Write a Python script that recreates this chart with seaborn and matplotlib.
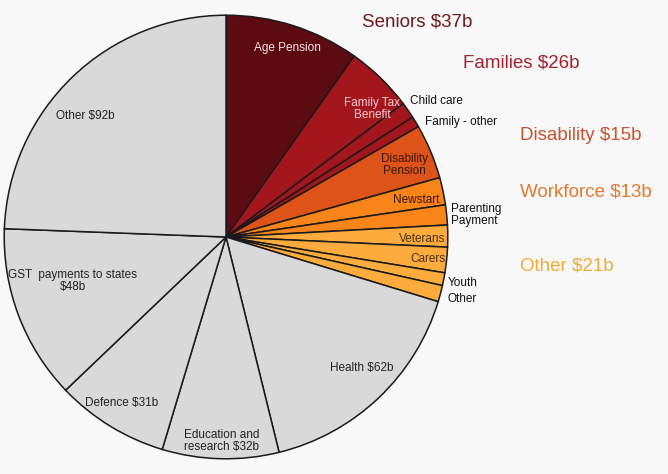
import matplotlib
matplotlib.use("Agg")
import matplotlib.pyplot as plt
import seaborn as sns

# budget items, clockwise from 12 o'clock ($b)
items = ["Age Pension", "Family Tax\nBenefit", "Child care", "Family - other",
         "Disability\nPension", "Newstart", "Parenting\nPayment",
         "Veterans", "Carers", "Youth", "Other",
         "Health $62b", "Education and\nresearch $32b", "Defence $31b",
         "GST  payments to states\n$48b", "Other $92b"]
values = [37, 18.5, 4.5, 3, 15, 7.5, 5.5, 6, 7, 3.5, 4.5, 62, 32, 31, 48, 92]
item_group = [0, 1, 1, 1, 2, 3, 3, 4, 4, 4, 4, 5, 5, 5, 5, 5]

# welfare groups
groups = ["Seniors", "Families", "Disability", "Workforce", "Other"]
group_totals = [37, 26, 15, 13, 21]

# styles
group_colors = ["#5c0b10", "#a3161c", "#dd5318", "#f98419", "#fdab3c", "#d9d9d9"]
group_text_colors = ["#6e1a1c", "#a3202e", "#c9532c", "#e27a2c", "#f0ab38"]
label_colors = ["#f2e4e4", "#f5cdd2", "#111111", "#111111", "#3b1606", "#3b1606",
                "#111111", "#4a3010", "#4a3010", "#111111", "#111111",
                "#222222", "#222222", "#222222", "#222222", "#222222"]

# label placement (pixels in the 668x474 figure) and alignment
label_px = [(287, 48), (372, 109), (410, 101), (425, 122), (404, 165),
            (416, 200), (451, 215), (422, 239), (428, 259), (448, 283),
            (447, 299), (362, 368), (222, 441), (122, 403), (73, 281), (85, 116)]
label_ha = ["center", "center", "left", "left", "center", "center", "left",
            "center", "center", "left", "left",
            "center", "center", "center", "center", "center"]
group_px = [(362, 22), (463, 63), (520, 136), (520, 192), (520, 266)]

W, H = 668, 474
CX, CY, R = 226, 237, 224

sns.set_theme(style="white")
plt.rcParams["font.family"] = ["Liberation Sans", "DejaVu Sans"]

fig = plt.figure(figsize=(W / 100, H / 100), dpi=100)
fig.patch.set_facecolor("#f8f8f8")
ax = fig.add_axes([(CX - R) / W, (H - CY - R) / H, 2 * R / W, 2 * R / H])
ax.set_facecolor("none")

colors = [group_colors[g] for g in item_group]
ax.pie(values, colors=colors, startangle=90, counterclock=False, radius=1,
       wedgeprops=dict(edgecolor="#1a1a1a", linewidth=1.1))
ax.set_xlim(-1.01, 1.01)
ax.set_ylim(-1.01, 1.01)
ax.set_aspect("equal")
ax.axis("off")

for name, (px, py), ha, c in zip(items, label_px, label_ha, label_colors):
    fig.text(px / W, 1 - py / H, name, ha=ha, va="center", color=c,
             fontsize=8.5, linespacing=1.05)

for name, total, (px, py), c in zip(groups, group_totals, group_px, group_text_colors):
    fig.text(px / W, 1 - py / H, f"{name} ${total}b", ha="left", va="center",
             color=c, fontsize=13.5)

fig.savefig("out.png", dpi=100, facecolor=fig.get_facecolor())
